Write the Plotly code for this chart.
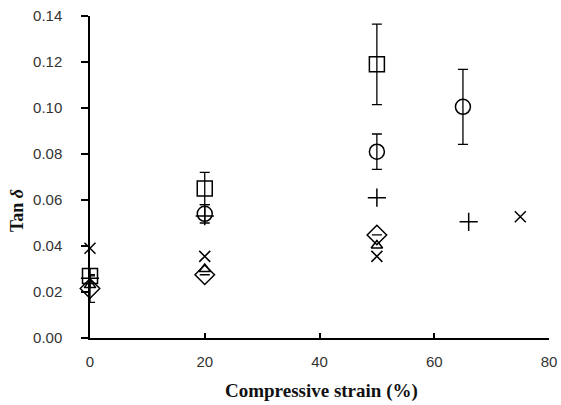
import plotly.graph_objects as go

# Data (compressive strain %, tan delta)
sq_x = [0, 20, 50]
sq_y = [0.027, 0.065, 0.119]
sq_err = [0.0, 0.007, 0.0175]

ci_x = [20, 50, 65]
ci_y = [0.054, 0.081, 0.1005]
ci_err = [0.004, 0.0077, 0.0163]

pl_x = [0, 20, 50, 66]
pl_y = [0.026, 0.053, 0.061, 0.0505]

xm_x = [0, 20, 50, 75]
xm_y = [0.039, 0.0355, 0.0355, 0.0527]

di_x = [0, 20, 50]
di_y = [0.0215, 0.0275, 0.0448]
di_err = [0.006, 0.0, 0.0]

tr_x = [0, 20, 50]
tr_y = [0.023, 0.030, 0.0402]

x_ticks = [0, 20, 40, 60, 80]
y_ticks = [0.00, 0.02, 0.04, 0.06, 0.08, 0.10, 0.12, 0.14]

x_title = "<b>Compressive strain (%)</b>"
y_title = "<b>Tan <i>δ</i></b>"

W, H = 561, 405
L, R, T, B = 90, 12, 16, 67

fig = go.Figure()

def add(x, y, symbol, size, err=None):
    kw = {}
    if err is not None:
        kw["error_y"] = dict(type="data", array=err, visible=True,
                             color="black", thickness=1.3, width=5)
    fig.add_trace(go.Scatter(
        x=x, y=y, mode="markers",
        marker=dict(symbol=symbol, size=size, color="black",
                    line=dict(color="black", width=1.5)),
        showlegend=False, cliponaxis=False, **kw))

add(di_x, di_y, "diamond-open", 15, di_err)
add(tr_x, tr_y, "triangle-up-open", 10)
add(xm_x, xm_y, "x-thin-open", 11)
add(pl_x, pl_y, "cross-thin-open", 13)
add(ci_x, ci_y, "circle-open", 15, ci_err)
add(sq_x, sq_y, "square-open", 15, sq_err)

pw, ph = W - L - R, H - T - B

fig.update_layout(
    width=W, height=H,
    margin=dict(l=L, r=R, t=T, b=B),
    paper_bgcolor="white", plot_bgcolor="white",
    font=dict(family="Liberation Sans", size=14, color="#333"),
    xaxis=dict(range=[0, 80], tickvals=x_ticks, ticktext=[str(v) for v in x_ticks],
               automargin=False,
               showgrid=False, zeroline=False, showline=True, linecolor="black",
               linewidth=1.5, ticks="inside", ticklen=5, tickwidth=1.5,
               tickcolor="black", tickfont=dict(size=15), ticklabelstandoff=9),
    yaxis=dict(range=[0, 0.14], tickvals=y_ticks,
               ticktext=[f"{v:.2f}" for v in y_ticks],
               automargin=False,
               showgrid=False, zeroline=False, showline=True, linecolor="black",
               linewidth=1.5, ticks="outside", ticklen=7, tickwidth=1.5,
               tickcolor="black", tickfont=dict(size=15), ticklabelstandoff=16),
    annotations=[
        dict(text=x_title, xref="paper", yref="paper",
             x=(321 - L) / pw, y=-(391 - (H - B)) / ph,
             xanchor="center", yanchor="middle", showarrow=False,
             font=dict(family="Liberation Serif", size=19, color="#111")),
        dict(text=y_title, xref="paper", yref="paper",
             x=-(L - 17) / pw, y=((H - B) - 211) / ph,
             xanchor="center", yanchor="middle", showarrow=False, textangle=-90,
             font=dict(family="Liberation Serif", size=18, color="#111")),
    ],
)

fig.write_html("out.html")
